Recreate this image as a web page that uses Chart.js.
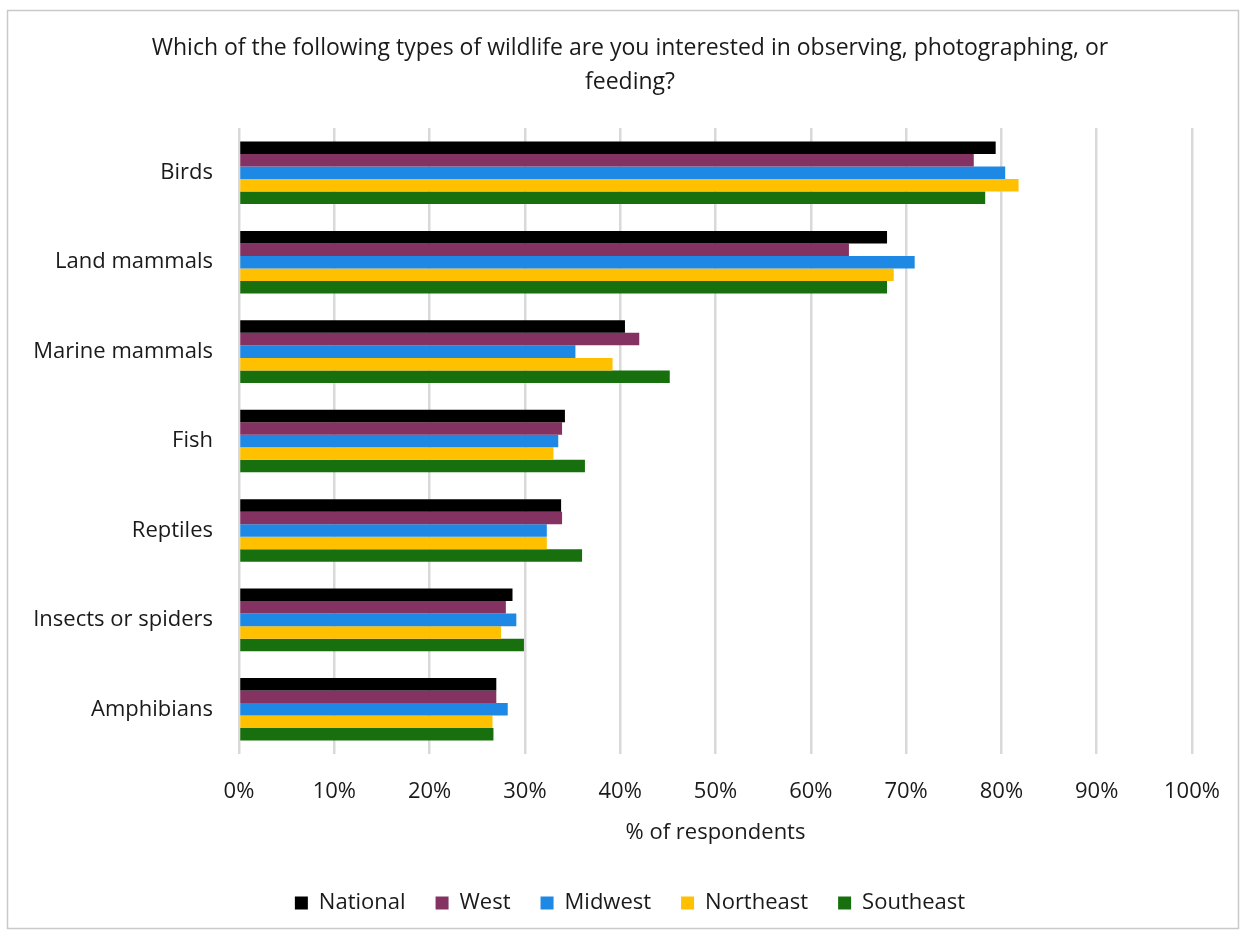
<!DOCTYPE html>
<html>
<head>
<meta charset="utf-8">
<script src="https://cdn.jsdelivr.net/npm/chart.js@4"></script>
<style>
    html, body { margin: 0; padding: 0; background: #fff; }
    #wrap { width: 1246px; height: 938px; }
</style>
</head>
<body>
<div id="wrap"><canvas id="wildlife-chart" width="1246" height="938"></canvas></div>
<script>
// Interest in wildlife types by region (% of respondents)
const CATEGORIES = ['Birds', 'Land mammals', 'Marine mammals', 'Fish', 'Reptiles', 'Insects or spiders', 'Amphibians'];
const NATIONAL  = [79.4, 68.0, 40.5, 34.2, 33.8, 28.7, 27.0];
const WEST      = [77.1, 64.0, 42.0, 33.9, 33.9, 28.0, 27.0];
const MIDWEST   = [80.4, 70.9, 35.3, 33.5, 32.3, 29.1, 28.2];
const NORTHEAST = [81.8, 68.7, 39.2, 33.0, 32.3, 27.5, 26.6];
const SOUTHEAST = [78.3, 68.0, 45.2, 36.3, 36.0, 29.9, 26.7];

const FONT = '"Open Sans", Lato, sans-serif';
const TEXT = '#1a1a1a';

// thin grey frame around the whole chart
const frame = {
    id: 'frame',
    beforeDraw(chart) {
        const ctx = chart.ctx;
        ctx.save();
        ctx.fillStyle = '#fff';
        ctx.fillRect(0, 0, chart.width, chart.height);
        ctx.strokeStyle = '#c9c9c9';
        ctx.lineWidth = 1.5;
        ctx.strokeRect(7.5, 10.5, chart.width - 15, chart.height - 20);
        ctx.restore();
    }
};

// nudge title and legend to the right so they sit centred on the frame
const centreBlocks = {
    id: 'centreBlocks',
    afterLayout(chart) {
        const dx = 29;
        [chart.titleBlock, chart.legend].forEach(box => {
            if (!box) return;
            box.left += dx;
            box.right += dx;
        });
    }
};

function series(label, data, color) {
    return {
        label: label,
        data: data,
        backgroundColor: color,
        borderColor: color,
        borderWidth: 0,
        barPercentage: 1,
        categoryPercentage: 0.70
    };
}

new Chart(document.getElementById('wildlife-chart'), {
    type: 'bar',
    data: {
        labels: CATEGORIES,
        datasets: [
            series('National', NATIONAL, '#000000'),
            series('West', WEST, '#833262'),
            series('Midwest', MIDWEST, '#1E88E5'),
            series('Northeast', NORTHEAST, '#FFC000'),
            series('Southeast', SOUTHEAST, '#17700D')
        ]
    },
    options: {
        indexAxis: 'y',
        responsive: false,
        animation: false,
        layout: {
            padding: { left: 10, right: 54, top: 10, bottom: 14 }
        },
        plugins: {
            title: {
                display: true,
                text: ['Which of the following types of wildlife are you interested in observing, photographing, or', 'feeding?'],
                color: TEXT,
                font: { family: FONT, size: 23, weight: 'normal', lineHeight: 1.48 },
                padding: { top: 21, bottom: 29 }
            },
            legend: {
                display: true,
                position: 'bottom',
                labels: {
                    color: TEXT,
                    font: { family: FONT, size: 22 },
                    boxWidth: 13,
                    boxHeight: 13,
                    padding: 30
                }
            },
            tooltip: { enabled: false }
        },
        scales: {
            x: {
                min: 0,
                max: 100,
                ticks: {
                    stepSize: 10,
                    color: TEXT,
                    padding: 25,
                    font: { family: FONT, size: 22 },
                    callback: v => v + '%'
                },
                grid: {
                    color: '#d9d9d9',
                    lineWidth: 2.5,
                    drawTicks: false
                },
                border: { display: false },
                title: {
                    display: true,
                    text: '% of respondents',
                    color: TEXT,
                    font: { family: FONT, size: 22 },
                    padding: { top: 14, bottom: 16 }
                },
                afterFit: scale => { scale.height = 108; }
            },
            y: {
                ticks: {
                    color: TEXT,
                    padding: 26,
                    font: { family: FONT, size: 22 }
                },
                grid: { display: false, drawTicks: false },
                border: { display: false },
                afterFit: scale => { scale.width = 229; }
            }
        }
    },
    plugins: [frame, centreBlocks]
});
</script>
</body>
</html>
